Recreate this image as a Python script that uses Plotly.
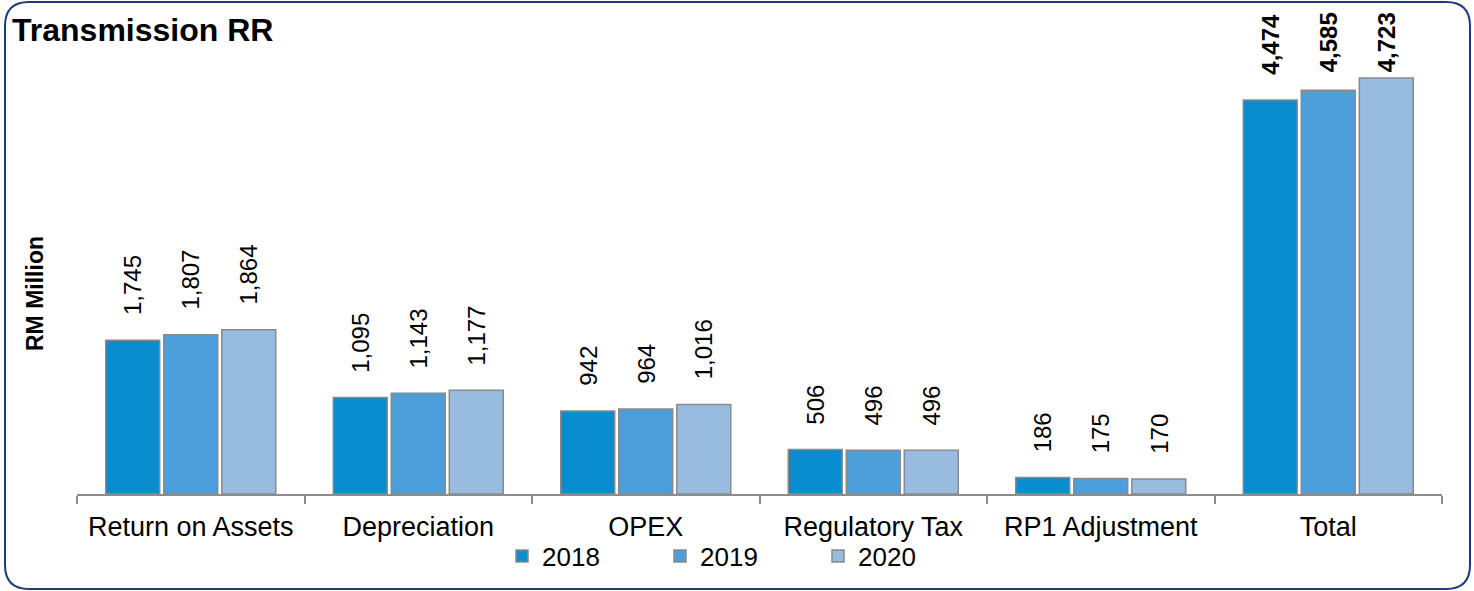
import plotly.graph_objects as go

categories = ["Return on Assets", "Depreciation", "OPEX", "Regulatory Tax", "RP1 Adjustment", "Total"]
years = ["2018", "2019", "2020"]
values_2018 = [1745, 1095, 942, 506, 186, 4474]
values_2019 = [1807, 1143, 964, 496, 175, 4585]
values_2020 = [1864, 1177, 1016, 496, 170, 4723]
series = [values_2018, values_2019, values_2020]
colors = ["#0a8dce", "#4c9fdb", "#97bcdf"]

W, H = 1474, 591
ML, MR, MT, MB = 77, 32, 10, 97
PW, PH = W - ML - MR, H - MT - MB
YMAX = 5495

def px_x(p):
    return (p - ML) / PW

def px_y(p):
    return (H - MB - p) / PH

BARGAP = 0.235
slot = PW / len(categories) * (1 - BARGAP) / 3
LABEL_SIZE = 24
GAP = 23

def label_len(txt):
    return LABEL_SIZE * (0.556 * sum(ch.isdigit() for ch in txt) + 0.278 * txt.count(",")) + 4

fig = go.Figure()
for i, (yr, vals) in enumerate(zip(years, series)):
    fig.add_trace(go.Bar(
        x=categories, y=vals, name=yr,
        marker=dict(color=colors[i], line=dict(color="#8a8a8a", width=1.5)),
        hoverinfo="x+y+name",
    ))

annotations = []
for i, vals in enumerate(series):
    for c, v in zip(categories, vals):
        bold = c == "Total"
        txt = f"{v:,}"
        bar_top = H - MB - v * PH / YMAX
        shift = min(GAP, bar_top - 10 - label_len(txt))
        annotations.append(dict(
            x=c, y=v, xref="x", yref="y",
            text=f"<b>{txt}</b>" if bold else txt,
            textangle=-90, showarrow=False,
            xanchor="center", yanchor="bottom",
            xshift=(i - 1) * slot, yshift=shift,
            font=dict(family="Arial, Liberation Sans", size=LABEL_SIZE, color="#000000"),
        ))

annotations.append(dict(
    x=px_x(35), y=px_y(294), xref="paper", yref="paper",
    text="<b>RM Million</b>", textangle=-90, showarrow=False,
    xanchor="center", yanchor="middle",
    font=dict(family="Arial, Liberation Sans", size=23, color="#000000"),
))
annotations.append(dict(
    x=px_x(10), y=px_y(30), xref="paper", yref="paper",
    text="<b>Transmission RR</b>", showarrow=False,
    xanchor="left", yanchor="middle",
    font=dict(family="Arial, Liberation Sans", size=32, color="#000000"),
))

# rounded border
L, R, T, B, r = 5, 1470, 2, 589, 24
def P(x, y):
    return f"{px_x(x):.5f},{px_y(y):.5f}"
path = (f"M {P(L + r, T)} L {P(R - r, T)} Q {P(R, T)} {P(R, T + r)} "
        f"L {P(R, B - r)} Q {P(R, B)} {P(R - r, B)} "
        f"L {P(L + r, B)} Q {P(L, B)} {P(L, B - r)} "
        f"L {P(L, T + r)} Q {P(L, T)} {P(L + r, T)} Z")

fig.update_layout(
    width=W, height=H,
    margin=dict(l=ML, r=MR, t=MT, b=MB),
    paper_bgcolor="white", plot_bgcolor="white",
    barmode="group", bargap=BARGAP, bargroupgap=0.07,
    font=dict(family="Arial, Liberation Sans", color="#000000"),
    showlegend=True,
    legend=dict(
        orientation="h", x=px_x(502), y=px_y(556), xanchor="left", yanchor="middle",
        font=dict(size=26, color="#000000"),
        entrywidth=113, entrywidthmode="pixels",
        bgcolor="rgba(0,0,0,0)", itemwidth=30, traceorder="normal",
    ),
    xaxis=dict(
        type="category", showline=True, linecolor="#8c8c8c", linewidth=2,
        ticks="outside", tickson="boundaries", ticklen=8, tickcolor="#8c8c8c", tickwidth=2,
        tickfont=dict(size=27, color="#000000"), showgrid=False, zeroline=False,
        ticklabelstandoff=8,
    ),
    yaxis=dict(
        range=[0, YMAX], showticklabels=False, showgrid=False, zeroline=False,
        showline=False, ticks="",
    ),
    annotations=annotations,
    shapes=[dict(type="path", path=path, xref="paper", yref="paper",
                 line=dict(color="#1f3a7a", width=2), fillcolor="rgba(0,0,0,0)", layer="below")],
)

fig.write_html("out.html", config={"displayModeBar": False},
               post_script="document.body.style.margin='0';")
